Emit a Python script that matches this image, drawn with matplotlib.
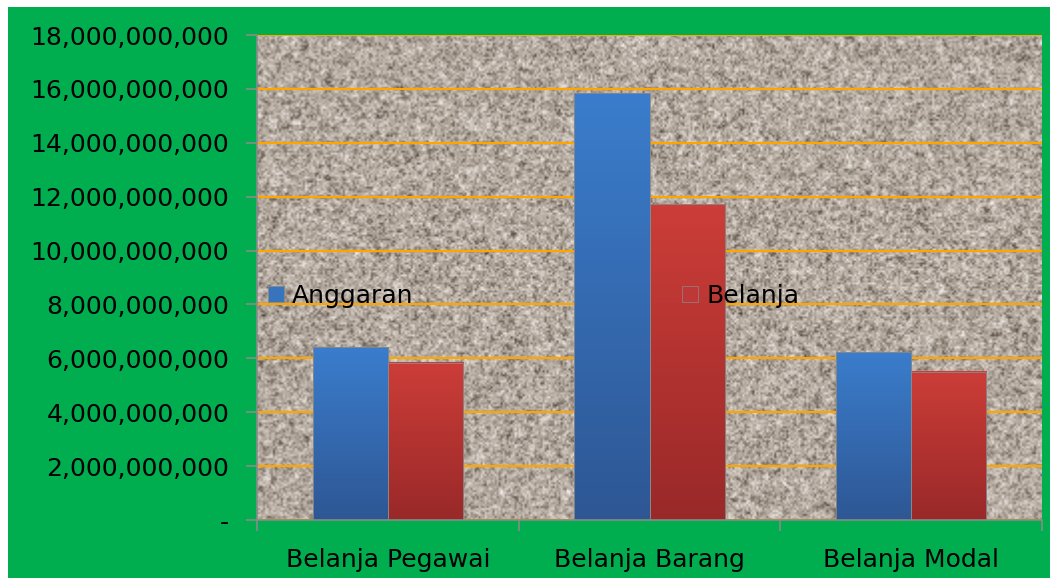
import numpy as np
import matplotlib
matplotlib.use("Agg")
import matplotlib.pyplot as plt
from matplotlib.patches import Rectangle, Patch
from matplotlib.colors import LinearSegmentedColormap
from matplotlib.ticker import FuncFormatter, FixedLocator

categories = ["Belanja Pegawai", "Belanja Barang", "Belanja Modal"]
anggaran = [6.41e9, 15.83e9, 6.22e9]
belanja = [5.83e9, 11.72e9, 5.50e9]
series_names = ["Anggaran", "Belanja"]
yticks = np.arange(0, 18e9 + 1, 2e9)

plt.rcParams['font.family'] = ['DejaVu Sans']

W, H = 1050, 578
fig = plt.figure(figsize=(W / 100, H / 100), dpi=100, facecolor="white")
fig.patches.append(Rectangle((8 / W, 0), 1 - 8 / W, 1 - 7 / H, transform=fig.transFigure,
                             facecolor="#00AE4F", edgecolor="none", zorder=-10))

ax = fig.add_axes([257 / W, 1 - 520 / H, (1042 - 257) / W, (520 - 35) / H])
ax.set_facecolor("none")

# granite texture background (decorative)
rng = np.random.default_rng(7)
th, tw = 243, 393
n = rng.random((th + 2, tw + 2))
sm = np.zeros((th, tw))
for dy in range(3):
    for dx in range(3):
        wgt = 3.0 if (dy == 1 and dx == 1) else 1.0
        sm += wgt * n[dy:dy + th, dx:dx + tw]
sm = (sm - sm.mean()) / sm.std()
n2 = rng.random((th, tw))
n2 = (n2 - n2.mean()) / n2.std()
tex = 0.45 * sm + 0.75 * n2
tex = np.clip((tex + 2.6) / 5.2, 0, 1)
cmap = LinearSegmentedColormap.from_list("granite", [
    (0.0, (0.28, 0.24, 0.21)), (0.22, (0.50, 0.46, 0.42)), (0.42, (0.67, 0.63, 0.59)),
    (0.58, (0.74, 0.70, 0.66)), (0.78, (0.85, 0.82, 0.79)), (1.0, (0.97, 0.96, 0.95))])
ax.imshow(tex, cmap=cmap, vmin=0, vmax=1, extent=[0, 1, 0, 1], transform=ax.transAxes,
          aspect="auto", interpolation="bilinear", zorder=0)

ax.yaxis.grid(True, color="#FFA500", linewidth=1.6, zorder=1)
ax.set_axisbelow(True)

x = np.arange(len(categories))
w = 0.287
b1 = ax.bar(x - w / 2, anggaran, w, facecolor="none", edgecolor="#8a8a8a", linewidth=0.6, zorder=3)
b2 = ax.bar(x + w / 2, belanja, w, facecolor="none", edgecolor="#8a8a8a", linewidth=0.6, zorder=3)

blue_cmap = LinearSegmentedColormap.from_list("b", [(0.18, 0.34, 0.58), (0.23, 0.49, 0.80)])
red_cmap = LinearSegmentedColormap.from_list("r", [(0.60, 0.16, 0.16), (0.80, 0.24, 0.22)])
grad = np.linspace(0, 1, 256).reshape(-1, 1)
for bars, cm in ((b1, blue_cmap), (b2, red_cmap)):
    for r in bars:
        bx, by, bw, bh = r.get_x(), r.get_y(), r.get_width(), r.get_height()
        ax.imshow(grad, cmap=cm, origin="lower", extent=[bx, bx + bw, by, by + bh],
                  aspect="auto", zorder=2, interpolation="bilinear")

ax.set_xlim(-0.5, 2.5)
ax.set_ylim(0, 18e9)
ax.set_yticks(yticks)
ax.yaxis.set_major_formatter(FuncFormatter(lambda v, p: "-" if v == 0 else f"{int(round(v)):,}"))
ax.set_xticks(x)
ax.set_xticklabels(categories)
ax.xaxis.set_minor_locator(FixedLocator([-0.5, 0.5, 1.5, 2.5]))
ax.tick_params(axis="x", which="major", length=0, pad=20, labelsize=18)
ax.tick_params(axis="x", which="minor", length=8, color="#8a8a8a", width=1.2)
ax.tick_params(axis="y", length=8, color="#8a8a8a", width=1.2, pad=12, labelsize=18)

for s in ("top", "right"):
    ax.spines[s].set_visible(False)
for s in ("left", "bottom"):
    ax.spines[s].set_color("#8a8a8a")
    ax.spines[s].set_linewidth(1.2)
    ax.spines[s].set_zorder(4)

handles = [Patch(facecolor=(0.22, 0.45, 0.74), edgecolor="#8a8a8a", linewidth=0.5),
           Patch(facecolor=(0.74, 0.22, 0.21), edgecolor="#8a8a8a", linewidth=0.5)]
ax.legend(handles, series_names, ncol=2, loc="center left",
          bbox_to_anchor=(268 / W, 1 - 296 / H), bbox_transform=fig.transFigure,
          frameon=False, fontsize=18, handlelength=0.64, handleheight=0.64,
          handletextpad=0.32, columnspacing=10.75, borderpad=0, borderaxespad=0)

fig.savefig("out.png", dpi=100, facecolor=fig.get_facecolor())
